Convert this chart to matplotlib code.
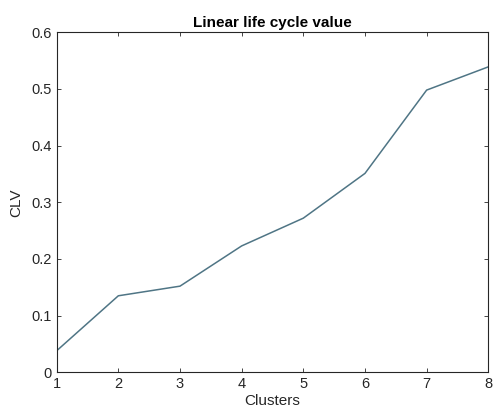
import matplotlib
matplotlib.use("Agg")
import matplotlib.pyplot as plt

# cluster index and CLV
clusters = [1, 2, 3, 4, 5, 6, 7, 8]
clv = [0.038, 0.135, 0.152, 0.223, 0.272, 0.351, 0.498, 0.539]
yticks = [0, 0.1, 0.2, 0.3, 0.4, 0.5, 0.6]
ytick_labels = ["0", "0.1", "0.2", "0.3", "0.4", "0.5", "0.6"]

plt.rcParams['font.family'] = ['Liberation Sans', 'DejaVu Sans']

fig = plt.figure(figsize=(4.98, 4.12), dpi=100)
ax = fig.add_axes([0.1138, 0.0964, 0.8667, 0.8252])

ax.plot(clusters, clv, color='#4f7585', linewidth=1.1)

ax.set_xlim(1, 8)
ax.set_ylim(0, 0.6)
ax.set_xticks(clusters)
ax.set_yticks(yticks)
ax.set_yticklabels(ytick_labels)
ax.tick_params(direction='in', length=3, width=0.6, labelsize=10.5,
               top=True, right=True, color='#262626', labelcolor='#262626')
for s in ax.spines.values():
    s.set_linewidth(0.8)
    s.set_color('#262626')

ax.set_xlabel('Clusters', fontsize=11, color='#262626', labelpad=2)
ax.set_ylabel('CLV', fontsize=11, color='#262626', labelpad=6)
ax.set_title('Linear life cycle value', fontsize=11, fontweight='bold', pad=4)

fig.savefig('out.png', dpi=100)
